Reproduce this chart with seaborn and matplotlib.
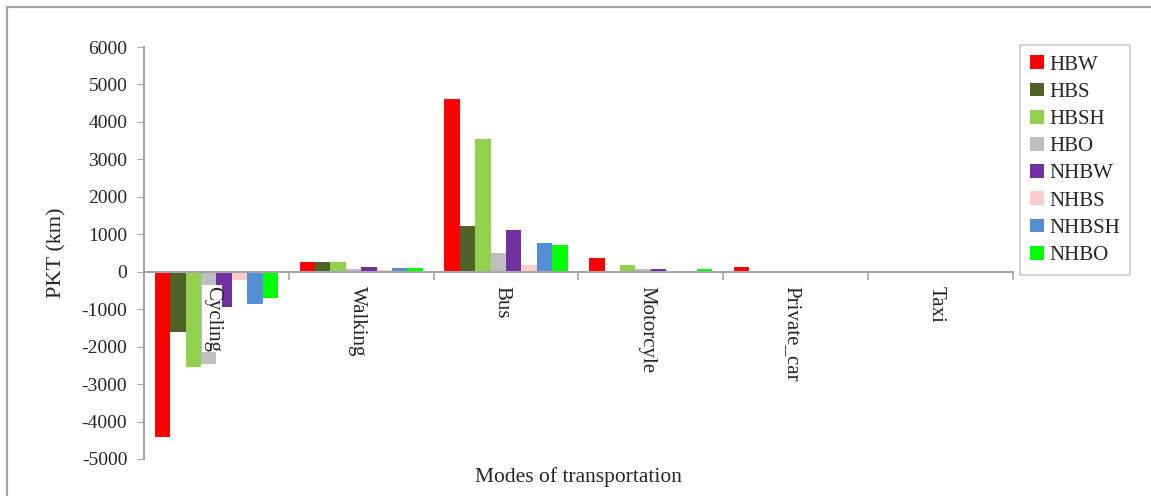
import matplotlib
matplotlib.use("Agg")
import matplotlib.pyplot as plt
import seaborn as sns
import pandas as pd
from matplotlib.lines import Line2D

modes = ["Cycling", "Walking", "Bus", "Motorcyle", "Private_car", "Taxi"]
purposes = ["HBW", "HBS", "HBSH", "HBO", "NHBW", "NHBS", "NHBSH", "NHBO"]
colors = ["#FF0000", "#4F6228", "#92D050", "#BFBFBF", "#7030A0", "#FFCCCC", "#558ED5", "#00FF00"]

HBW   = [-4400, 260, 4600, 365, 125, 0]
HBS   = [-1600, 270, 1230, 0, 0, 0]
HBSH  = [-2550, 260, 3550, 180, 20, 0]
HBO   = [-2470, 80, 510, 70, 0, 0]
NHBW  = [-950, 125, 1120, 70, 20, 0]
NHBS  = [-230, 35, 170, 0, 0, 0]
NHBSH = [-860, 105, 760, 0, 0, 0]
NHBO  = [-700, 105, 710, 60, 0, 0]

series = [HBW, HBS, HBSH, HBO, NHBW, NHBS, NHBSH, NHBO]
rows = []
for p, vals in zip(purposes, series):
    for m, v in zip(modes, vals):
        rows.append({"mode": m, "purpose": p, "pkt": v})
df = pd.DataFrame(rows)

sns.set_style("white")
plt.rcParams["font.family"] = ["Liberation Serif", "DejaVu Serif"]
plt.rcParams["axes.unicode_minus"] = False

fig = plt.figure(figsize=(11.51, 4.96), dpi=100)
ax = fig.add_axes([0.1251, 0.0746, 0.880 - 0.1251, 0.9052 - 0.0746])

sns.barplot(data=df, x="mode", y="pkt", hue="purpose", order=modes, hue_order=purposes,
            palette=colors, width=0.85, saturation=1, linewidth=0, ax=ax, errorbar=None)

gray = "#A6A6A6"
ax.set_ylim(-5000, 6000)
ax.set_xlim(-0.5, len(modes) - 0.5)
ax.set_yticks(range(-5000, 6001, 1000))
ax.tick_params(axis="y", labelsize=14, length=5, color=gray, direction="out", left=True, pad=7)
ax.spines["top"].set_visible(False)
ax.spines["right"].set_visible(False)
ax.spines["left"].set_color(gray)
ax.spines["left"].set_linewidth(1.5)
ax.spines["bottom"].set_position(("data", 0))
ax.spines["bottom"].set_color(gray)
ax.spines["bottom"].set_linewidth(1.5)
ax.set_xticks([i + 0.5 for i in range(len(modes))])
ax.set_xticklabels([])
ax.tick_params(axis="x", length=6, color=gray, direction="out", bottom=True, width=1.2)

for i, m in enumerate(modes):
    ax.annotate(m, xy=(i, 0), xytext=(-3, -10), textcoords="offset points",
                rotation=-90, ha="center", va="top", fontsize=15,
                bbox=dict(facecolor="white", edgecolor="none", pad=0.5))

ax.set_xlabel("")
ax.text(0.5, -0.043, "Modes of transportation", transform=ax.transAxes,
        ha="center", va="center", fontsize=15.5)
ax.set_ylabel("PKT (km)", fontsize=16)
ax.yaxis.set_label_coords(-0.089, 0.5)

handles, labels = ax.get_legend_handles_labels()
leg = ax.legend(handles, labels, loc="upper left", bbox_to_anchor=(1.008, 1.005),
                frameon=True, fancybox=False, edgecolor="#BFBFBF", fontsize=15,
                handlelength=0.65, handleheight=0.65, handletextpad=0.25,
                labelspacing=0.38, borderpad=0.5, borderaxespad=0)
leg.get_frame().set_linewidth(1.2)

bx = 7 / 1151
by = 1 - 7 / 496
fig.lines.append(Line2D([bx, bx], [0, by], transform=fig.transFigure, color=gray, linewidth=1.6))
fig.lines.append(Line2D([bx, 1], [by, by], transform=fig.transFigure, color=gray, linewidth=1.6))

fig.savefig("out.png", dpi=100)
